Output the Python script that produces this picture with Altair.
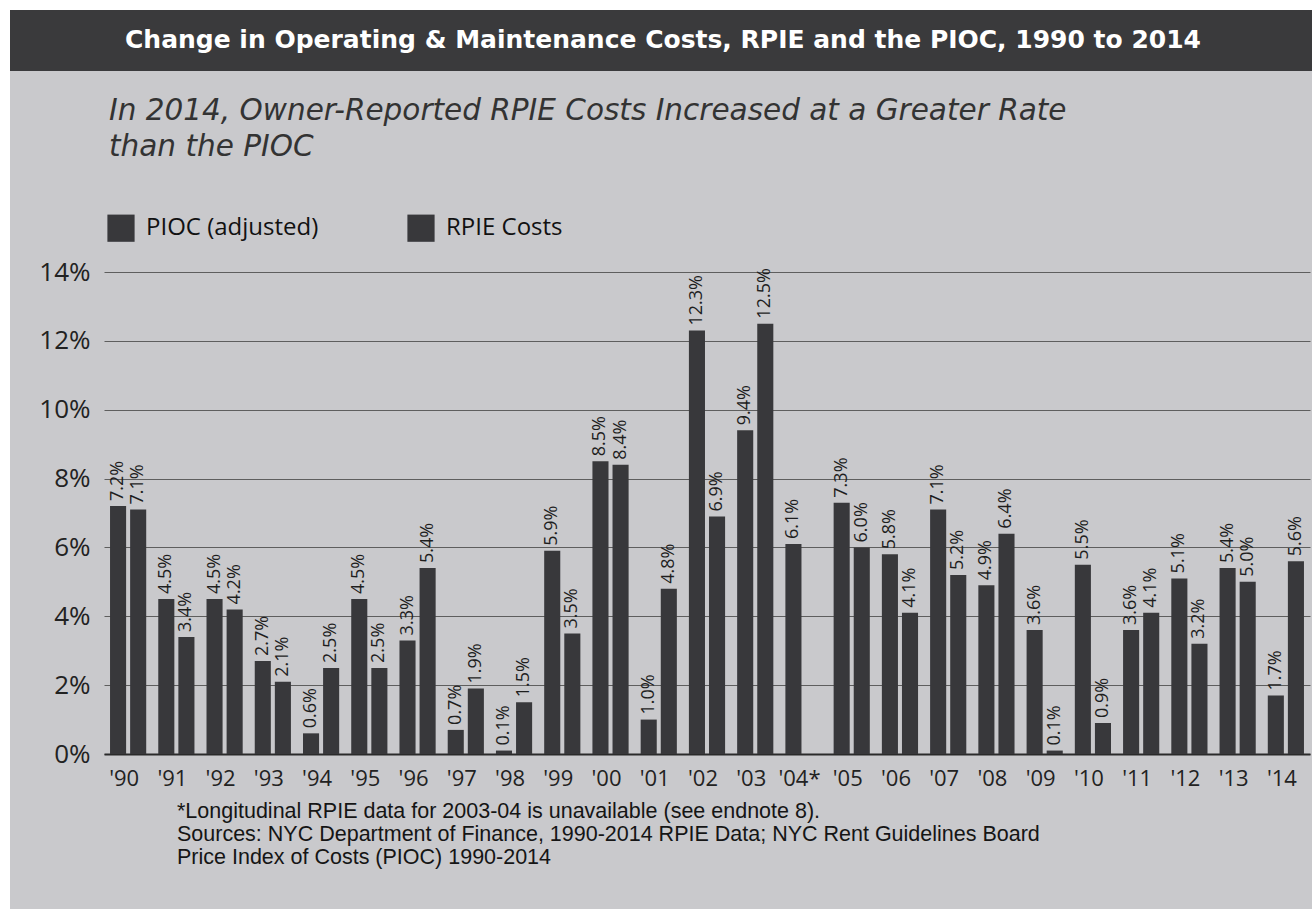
import altair as alt
import pandas as pd

years = ["'90", "'91", "'92", "'93", "'94", "'95", "'96", "'97", "'98", "'99",
         "'00", "'01", "'02", "'03", "'04*", "'05", "'06", "'07", "'08", "'09",
         "'10", "'11", "'12", "'13", "'14"]
pioc = [7.2, 4.5, 4.5, 2.7, 0.6, 4.5, 3.3, 0.7, 0.1, 5.9,
        8.5, 1.0, 12.3, 9.4, 6.1, 7.3, 5.8, 7.1, 4.9, 3.6,
        5.5, 3.6, 5.1, 5.4, 1.7]
rpie = [7.1, 3.4, 4.2, 2.1, 2.5, 2.5, 5.4, 1.9, 1.5, 3.5,
        8.4, 4.8, 6.9, 12.5, None, 6.0, 4.1, 5.2, 6.4, 0.1,
        0.9, 4.1, 3.2, 5.0, 5.6]
series = ["PIOC (adjusted)", "RPIE Costs"]
y_ticks = [0, 2, 4, 6, 8, 10, 12, 14]

title_text = "Change in Operating & Maintenance Costs, RPIE and the PIOC, 1990 to 2014"
subtitle_text = "In 2014, Owner-Reported RPIE Costs Increased at a Greater Rate\nthan the PIOC"
footnote_text = ("*Longitudinal RPIE data for 2003-04 is unavailable (see endnote 8).\n"
                 "Sources: NYC Department of Finance, 1990-2014 RPIE Data; NYC Rent Guidelines Board\n"
                 "Price Index of Costs (PIOC) 1990-2014")

rows = []
for i, y in enumerate(years):
    for s, vals in zip(series, [pioc, rpie]):
        if vals[i] is not None:
            rows.append({"year": y, "series": s, "value": vals[i]})
df = pd.DataFrame(rows)

BAR = "#38383b"
BG = "#c9c9cc"

x_enc = alt.X("year:N", sort=years, title=None,
              scale=alt.Scale(paddingInner=0.25, paddingOuter=0.125),
              axis=alt.Axis(labelAngle=0, labelFont="Open Sans", labelFontSize=22,
                            labelColor="#222", labelPadding=14, labelOffset=-4,
                            ticks=False, domain=True, domainColor="#2a2a2a",
                            domainWidth=2))
xo_enc = alt.XOffset("series:N", sort=series,
                     scale=alt.Scale(paddingInner=0.2, paddingOuter=0))
y_enc = alt.Y("value:Q", title=None,
              scale=alt.Scale(domain=[0, 14], nice=False),
              axis=alt.Axis(values=y_ticks, labelExpr="datum.value + '%'",
                            labelFont="Open Sans", labelFontSize=26, labelColor="#222",
                            labelPadding=14, ticks=False, domain=False,
                            grid=True, gridColor="#5e5e5e", gridWidth=1))

base = alt.Chart(df)

bars = base.mark_bar(color=BAR).encode(
    x=x_enc, xOffset=xo_enc, y=y_enc,
    color=alt.Color("series:N", sort=series,
                    scale=alt.Scale(domain=series, range=[BAR, BAR]),
                    legend=alt.Legend(title=None, orient="none", legendX=3, legendY=-58,
                                      direction="horizontal", symbolType="square",
                                      symbolSize=740, symbolStrokeWidth=0,
                                      labelFont="Open Sans", labelFontSize=24,
                                      labelColor="#111", labelOffset=11,
                                      columnPadding=88, labelLimit=400)),
)

labels = base.transform_calculate(
    label="format(datum.value, '.1f') + '%'"
).mark_text(angle=270, align="left", baseline="middle", dx=5,
            font="Open Sans", fontSize=18, color="#1e1e1e").encode(
    x=alt.X("year:N", sort=years), xOffset=alt.XOffset("series:N", sort=series),
    y="value:Q", text="label:N",
)

one = pd.DataFrame({"k": [0]})
deco = alt.Chart(one)

left_strip = deco.mark_rect(color="white").encode(
    x=alt.value(-104), x2=alt.value(-94), y=alt.value(-272), y2=alt.value(637))
top_strip = deco.mark_rect(color="white").encode(
    x=alt.value(-104), x2=alt.value(1208), y=alt.value(-272), y2=alt.value(-262))
title_bar = deco.mark_rect(color="#3a3a3c").encode(
    x=alt.value(-94), x2=alt.value(1208), y=alt.value(-262), y2=alt.value(-201))
title = deco.mark_text(font="DejaVu Sans", fontWeight="bold", fontSize=25,
                       color="white", align="center", baseline="middle").encode(
    x=alt.value(559), y=alt.value(-232), text=alt.value(title_text))
subtitle = deco.mark_text(font="DejaVu Sans", fontStyle="italic", fontSize=29.5,
                          color="#333", align="left", baseline="middle",
                          lineBreak="\n", lineHeight=36).encode(
    x=alt.value(5), y=alt.value(-161), text=alt.value(subtitle_text))
footnote = deco.mark_text(font="Liberation Sans", fontSize=21.5, color="#151515",
                          align="left", baseline="middle",
                          lineBreak="\n", lineHeight=23).encode(
    x=alt.value(73), y=alt.value(540), text=alt.value(footnote_text))

chart = alt.layer(
    left_strip, top_strip, title_bar, title, subtitle, footnote, bars, labels
).properties(
    width=1206, height=482,
    padding={"left": 104, "top": 272, "right": 2, "bottom": 155},
    autosize=alt.AutoSizeParams(type="none"),
).configure(background=BG).configure_view(stroke=None)

chart.save("out.html", embed_options={"renderer": "svg", "actions": False})
